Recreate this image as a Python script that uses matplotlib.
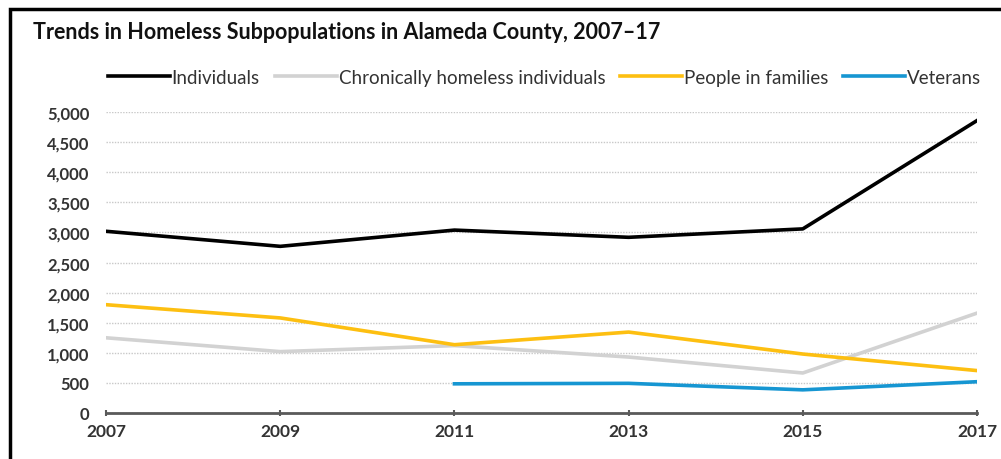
import matplotlib.pyplot as plt
from matplotlib.patches import Rectangle
from matplotlib.ticker import FuncFormatter

plt.rcParams['font.family'] = ['Lato', 'DejaVu Sans']

years = [2007, 2009, 2011, 2013, 2015, 2017]
individuals = [3020, 2770, 3040, 2920, 3060, 4860]
chronic = [1250, 1020, 1120, 930, 665, 1660]
families = [1800, 1580, 1135, 1345, 980, 705]
vet_years = [2011, 2013, 2015, 2017]
veterans = [485, 493, 385, 520]

labels = ['Individuals', 'Chronically homeless individuals',
          'People in families', 'Veterans']
colors = ['#000000', '#d2d2d2', '#fdbf11', '#1696d2']

fig = plt.figure(figsize=(10.01, 4.6), dpi=100)
ax = fig.add_axes([0.106, 0.1, 0.87, 0.654])

ax.plot(years, individuals, color=colors[0], lw=2.6, label=labels[0])
ax.plot(years, chronic, color=colors[1], lw=2.6, label=labels[1])
ax.plot(years, families, color=colors[2], lw=2.6, label=labels[2])
ax.plot(vet_years, veterans, color=colors[3], lw=2.6, label=labels[3])

ax.set_xlim(2007, 2017)
ax.set_ylim(0, 5000)
ax.set_xticks(years)
ax.set_yticks(range(0, 5001, 500))
ax.yaxis.set_major_formatter(FuncFormatter(lambda v, p: f'{int(v):,}'))
ax.yaxis.grid(True, color='#c8c8c8', linestyle=(0, (1, 1)), lw=1)
ax.set_axisbelow(True)
for s in ['top', 'right', 'left']:
    ax.spines[s].set_visible(False)
ax.spines['bottom'].set_color('#5a5a5a')
ax.spines['bottom'].set_linewidth(2)
ax.tick_params(axis='y', length=0, pad=12, labelsize=12, labelcolor='#333333')
ax.tick_params(axis='x', length=4, width=1.5, color='#5a5a5a', direction='inout',
               pad=5, labelsize=12.5, labelcolor='#333333')
for t in ax.get_xticklabels() + ax.get_yticklabels():
    t.set_fontweight('bold')

fig.text(0.033, 0.93, 'Trends in Homeless Subpopulations in Alameda County, 2007\u201317',
         fontsize=15.5, fontweight='bold', color='#111111', va='center')

fig.legend(loc='center', bbox_to_anchor=(0.544, 0.83), ncol=4, frameon=False,
           handlelength=3.3, handletextpad=0.1, columnspacing=0.8, fontsize=13.5,
           labelcolor='#333333')

fig.patches.append(Rectangle((0.01, -0.05), 1.1, 1.028, transform=fig.transFigure,
                             fill=False, edgecolor='black', lw=2.5))

fig.savefig('out.png', dpi=100)
